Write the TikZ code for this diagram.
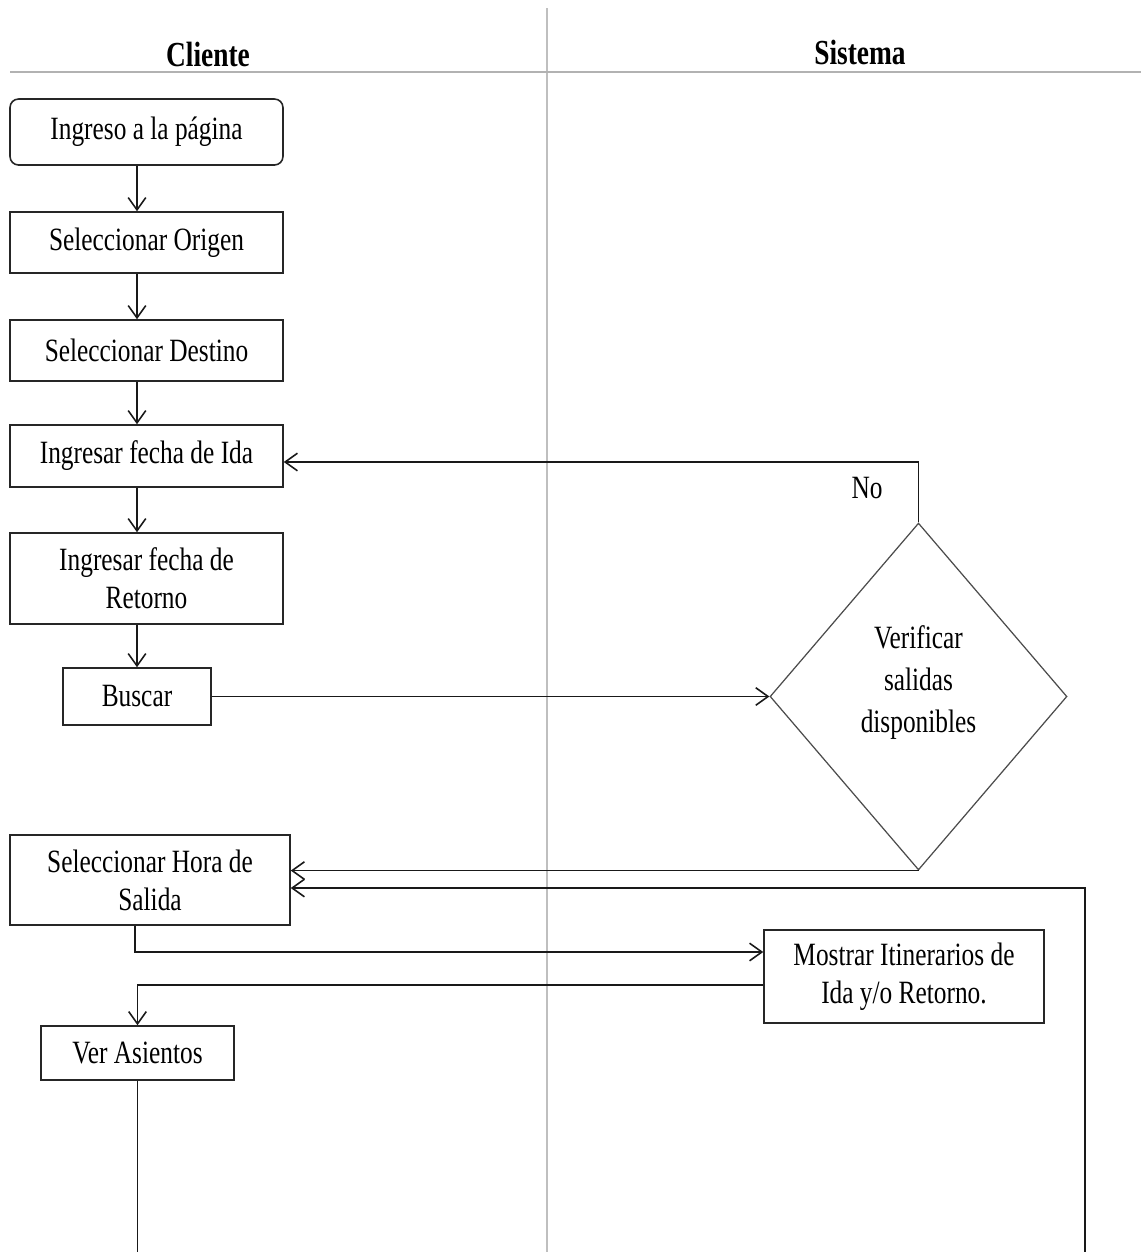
\documentclass[tikz,border=0pt]{standalone}
\usepackage{fontspec}
\setmainfont{Liberation Serif}[FakeStretch=0.78]
\usetikzlibrary{arrows.meta,shapes.geometric,calc}
\begin{document}
\begin{tikzpicture}[x=0.02cm,y=-0.02cm,
  txt/.style={font=\fontsize{18.5}{21.5}\selectfont},
  box/.style={txt,draw=black!85,line width=0.9pt,rectangle,inner sep=0pt,align=center},
  dec/.style={txt,draw=black!70,line width=0.7pt,diamond,inner sep=0pt,align=center},
  arr/.style={draw=black!90,line width=0.9pt,-{Straight Barb[length=7pt,width=10pt]}},
  lin/.style={draw=black!90,line width=0.9pt},
  lane/.style={draw=black!25,line width=0.9pt}]
\useasboundingbox (0,0) rectangle (1141,1252);
\fill[white] (0,0) rectangle (1141,1252);
% lanes
\draw[lane] (547,8) -- (547,1252);
\draw[draw=black!30,line width=1.6pt] (10,72) -- (1141,72);
\node[font=\fontsize{20}{24}\selectfont\bfseries] (hc) at (208,54) {Cliente};
\node[font=\fontsize{20}{24}\selectfont\bfseries] (hs) at (860,52) {Sistema};
% nodes
\node[box,rounded corners=0.17cm,minimum width=5.46cm,minimum height=1.32cm] (b1) at (146.5,132) {Ingreso a la página};
\node[box,minimum width=5.46cm,minimum height=1.22cm] (b2) at (146.5,242.5) {Seleccionar Origen};
\node[box,minimum width=5.46cm,minimum height=1.22cm] (b3) at (146.5,350.5) {Seleccionar Destino};
\node[box,minimum width=5.46cm,minimum height=1.24cm] (b4) at (146.5,456) {Ingresar fecha de Ida};
\node[box,minimum width=5.46cm,minimum height=1.82cm] (b5) at (146.5,578.5) {Ingresar fecha de\\Retorno};
\node[box,minimum width=2.96cm,minimum height=1.14cm] (b6) at (137,696.5) {Buscar};
\node[dec,minimum width=5.94cm,minimum height=6.94cm,
  label={[txt,align=center,font=\fontsize{18.5}{24}\selectfont,yshift=0.28cm]center:Verificar\\salidas\\disponibles}] (d) at (918.5,696.5) {};
\node[box,minimum width=5.6cm,minimum height=1.8cm] (b8) at (150,880) {Seleccionar Hora de\\Salida};
\node[box,minimum width=5.6cm,minimum height=1.86cm] (b9) at (904,976.5) {Mostrar Itinerarios de\\Ida y/o Retorno.};
\node[box,minimum width=3.86cm,minimum height=1.08cm] (b10) at (137.5,1053) {Ver Asientos};
\node[txt] (no) at (867,488) {No};
\coordinate (xa) at (137,0);
\coordinate (loopend) at (1085,1252);
\coordinate (vend) at (137.5,1252);
% connectors
\draw[arr] (xa |- b1.south) -- (xa |- b2.north);
\draw[arr] (xa |- b2.south) -- (xa |- b3.north);
\draw[arr] (xa |- b3.south) -- (xa |- b4.north);
\draw[arr] (xa |- b4.south) -- (xa |- b5.north);
\draw[arr] (xa |- b5.south) -- (xa |- b6.north);
\draw[arr] (b6.east) -- (d.west);
\draw[arr] (d.north) |- ($(b4.east)+(0,6)$);
\draw[arr] (d.south) -- (d.south -| b8.east);
\draw[arr] (loopend) |- ($(b8.east)+(0,8)$);
\draw[arr] (135,0 |- b8.south) |- ($(b9.west)+(0,-24.5)$);
\draw[arr] ($(b9.west)+(0,8.5)$) -| (b10.north);
\draw[lin] (b10.south) -- (vend);
\end{tikzpicture}
\end{document}
